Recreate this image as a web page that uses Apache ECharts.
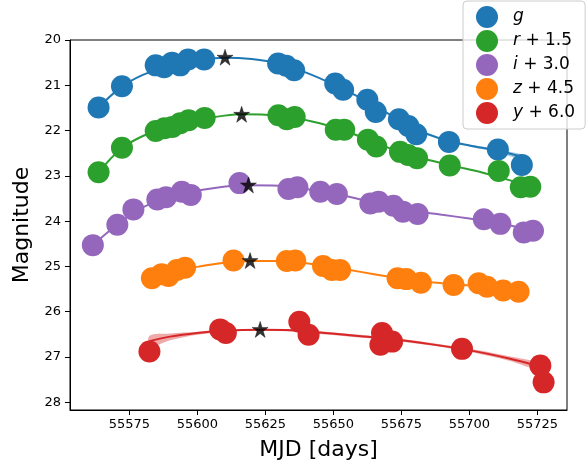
<!DOCTYPE html>
<html>
<head>
<meta charset="utf-8">
<script src="https://cdn.jsdelivr.net/npm/echarts@6/dist/echarts.min.js"></script>
<style>
  html, body { margin: 0; padding: 0; background: #fff; }
  #chart { width: 587px; height: 467px; }
</style>
</head>
<body>
<div id="chart"></div>
<script>
// light curve points [MJD, mag + offset]
let gPts = [[55563.7,21.49],[55572.3,21.02],[55584.7,20.56],[55587.8,20.60],[55590.7,20.50],[55593.7,20.56],[55596.6,20.43],[55602.5,20.43],[55629.7,20.52],[55632.7,20.57],[55635.6,20.67],[55650.7,20.96],[55653.6,21.10],[55662.5,21.32],[55665.6,21.59],[55674.1,21.75],[55677.6,21.90],[55680.5,22.08],[55692.5,22.25],[55710.5,22.42],[55719.3,22.76]];
let rPts = [[55563.7,22.92],[55572.3,22.38],[55584.7,22.01],[55587.9,21.95],[55590.8,21.92],[55593.7,21.84],[55596.8,21.77],[55602.7,21.72],[55629.8,21.66],[55632.9,21.75],[55635.8,21.70],[55650.9,21.98],[55654.0,21.98],[55662.7,22.20],[55665.8,22.35],[55674.5,22.47],[55677.5,22.54],[55680.8,22.61],[55692.8,22.77],[55710.8,22.89],[55718.9,23.25],[55722.4,23.24]];
let iPts = [[55561.6,24.53],[55570.6,24.08],[55576.5,23.74],[55585.3,23.52],[55588.5,23.47],[55594.3,23.35],[55597.6,23.42],[55615.5,23.16],[55633.5,23.29],[55636.8,23.25],[55645.2,23.35],[55651.3,23.40],[55663.6,23.61],[55666.6,23.57],[55672.1,23.66],[55675.6,23.79],[55681.0,23.84],[55705.3,23.96],[55711.4,24.06],[55720.0,24.25],[55723.4,24.21]];
let zPts = [[55583.3,25.26],[55586.9,25.17],[55589.4,25.21],[55592.5,25.08],[55595.5,25.03],[55613.3,24.87],[55632.9,24.88],[55636.0,24.87],[55646.2,24.99],[55649.5,25.08],[55652.5,25.08],[55673.6,25.26],[55676.8,25.28],[55682.2,25.36],[55694.2,25.41],[55703.4,25.37],[55706.5,25.45],[55712.4,25.53],[55718.1,25.56]];
let yPts = [[55582.4,26.88],[55608.4,26.39],[55610.5,26.47],[55637.5,26.22],[55640.9,26.51],[55667.9,26.47],[55667.3,26.73],[55671.6,26.66],[55697.3,26.82],[55726.1,27.19],[55727.3,27.56]];

// model curves
let gFit = [[55563.7,21.49],[55572,21.04],[55580,20.77],[55590,20.56],[55600,20.45],[55610,20.39],[55620,20.42],[55630,20.52],[55640,20.72],[55650,20.98],[55660,21.28],[55670,21.62],[55680,21.96],[55690,22.19],[55700,22.33],[55710,22.44],[55722,22.62]];
let rFit = [[55563.7,22.92],[55572,22.40],[55580,22.12],[55590,21.90],[55600,21.76],[55610,21.67],[55617,21.64],[55625,21.65],[55635,21.71],[55645,21.84],[55655,22.02],[55665,22.26],[55675,22.48],[55685,22.65],[55695,22.79],[55705,22.93],[55715,23.10],[55722.4,23.25]];
let iFit = [[55561.6,24.53],[55570,24.10],[55578,23.76],[55587,23.52],[55597,23.36],[55607,23.26],[55618,23.21],[55630,23.22],[55640,23.29],[55650,23.39],[55660,23.52],[55670,23.65],[55680,23.77],[55690,23.86],[55700,23.94],[55710,24.03],[55718,24.14],[55724,24.24]];
let zFit = [[55583.3,25.24],[55590,25.14],[55600,25.01],[55610,24.92],[55620,24.88],[55630,24.88],[55640,24.93],[55650,25.02],[55660,25.12],[55670,25.22],[55680,25.31],[55690,25.37],[55700,25.42],[55710,25.48],[55718,25.56]];
let yFit = [[55582.4,26.65],[55590,26.55],[55600,26.47],[55610,26.42],[55623,26.40],[55635,26.41],[55645,26.46],[55660,26.54],[55672,26.61],[55685,26.71],[55697,26.82],[55706,26.92],[55715,27.04],[55724,27.18]];

// uncertainty bands [MJD, upper, lower]
let gBand = [[55690,22.19,22.21],[55700,22.31,22.35],[55710,22.41,22.48],[55722,22.57,22.68]];
let yBand = [[55582.4,26.53,26.78],[55590,26.48,26.63],[55600,26.44,26.51],[55610,26.40,26.44],[55623,26.38,26.42],[55635,26.39,26.44],[55645,26.43,26.49],[55660,26.51,26.57],[55672,26.58,26.64],[55685,26.68,26.74],[55697,26.79,26.85],[55706,26.88,26.96],[55715,26.99,27.09],[55724,27.11,27.25]];

// peak markers
let peaks = [[55610.2,20.38],[55616.3,21.64],[55618.8,23.20],[55619.4,24.87],[55623.1,26.39]];

let xTicks = [55575, 55600, 55625, 55650, 55675, 55700, 55725];
let yTicks = [20, 21, 22, 23, 24, 25, 26, 27, 28];

let bands = [
  {name: 'g', color: '#1f77b4', pts: gPts, fit: gFit, band: gBand},
  {name: 'r + 1.5', color: '#2ca02c', pts: rPts, fit: rFit},
  {name: 'i + 3.0', color: '#9467bd', pts: iPts, fit: iFit},
  {name: 'z + 4.5', color: '#ff7f0e', pts: zPts, fit: zFit},
  {name: 'y + 6.0', color: '#d62728', pts: yPts, fit: yFit, band: yBand}
];

let font = 'DejaVu Sans';
let star = 'path://M50,0 L62,36 L100,36 L69,58 L81,95 L50,72 L19,95 L31,58 L0,36 L38,36 Z';

function bandSeries(b) {
  return {
    type: 'custom',
    name: b.name + ' band',
    data: [0],
    z: 1,
    silent: true,
    renderItem: function (params, api) {
      let pts = [];
      b.band.forEach(function (d) { pts.push(api.coord([d[0], d[1]])); });
      for (let k = b.band.length - 1; k >= 0; k--) {
        pts.push(api.coord([b.band[k][0], b.band[k][2]]));
      }
      return {
        type: 'polygon',
        shape: {points: pts, smooth: 0.3},
        style: {fill: b.color, opacity: 0.4}
      };
    }
  };
}

let series = [];
bands.forEach(function (b) {
  if (b.band) series.push(bandSeries(b));
  series.push({
    type: 'line',
    name: b.name + ' fit',
    data: b.fit,
    smooth: 0.35,
    showSymbol: false,
    silent: true,
    z: 2,
    lineStyle: {color: b.color, width: 2}
  });
  series.push({
    type: 'scatter',
    name: b.name,
    data: b.pts,
    symbol: 'circle',
    symbolSize: 22,
    z: 3,
    itemStyle: {color: b.color, opacity: 1}
  });
});
series.push({
  type: 'scatter',
  name: 'peak',
  data: peaks,
  symbol: star,
  symbolSize: 16,
  z: 10,
  itemStyle: {color: '#000', borderColor: '#000', borderWidth: 0.5}
});

let option = {
  animation: false,
  grid: {left: 70, right: 20, top: 40, bottom: 57},
  xAxis: {
    type: 'value',
    min: 55553.2,
    max: 55735.9,
    name: 'MJD [days]',
    nameLocation: 'middle',
    nameGap: 29,
    nameTextStyle: {fontFamily: font, fontSize: 22, color: '#000'},
    axisLine: {show: true, lineStyle: {color: '#000', width: 1}},
    axisTick: {show: true, inside: false, length: 5, customValues: xTicks, lineStyle: {color: '#000'}},
    axisLabel: {
      customValues: xTicks,
      formatter: function (v) { return String(v); },
      fontFamily: font, fontSize: 13, color: '#000', margin: 8
    },
    splitLine: {show: false}
  },
  yAxis: {
    type: 'value',
    inverse: true,
    min: 20,
    max: 28.17,
    name: 'Magnitude',
    nameLocation: 'middle',
    nameGap: 33,
    nameTextStyle: {fontFamily: font, fontSize: 22, color: '#000'},
    axisLine: {show: true, lineStyle: {color: '#000', width: 1}},
    axisTick: {show: true, inside: false, length: 5, customValues: yTicks, lineStyle: {color: '#000'}},
    axisLabel: {customValues: yTicks, fontFamily: font, fontSize: 13, color: '#000', margin: 9},
    splitLine: {show: false}
  },
  legend: {
    data: bands.map(function (b) { return b.name; }),
    orient: 'vertical',
    left: 463,
    top: 1,
    icon: 'circle',
    itemWidth: 22,
    itemHeight: 22,
    itemGap: 2,
    padding: [5, 10, 5, 13],
    backgroundColor: 'rgba(255,255,255,0.8)',
    borderColor: '#cccccc',
    borderWidth: 1,
    borderRadius: 4,
    selectedMode: false,
    formatter: function (name) {
      let p = name.split(' + ');
      if (p.length > 1) return '{it|' + p[0] + '}{n| + ' + p[1] + '}';
      return '{it|' + name + '}';
    },
    textStyle: {
      padding: [0, 0, 0, 10],
      rich: {
        it: {fontFamily: font, fontStyle: 'italic', fontSize: 17, color: '#000'},
        n: {fontFamily: font, fontSize: 17, color: '#000'}
      }
    }
  },
  series: series
};

let chart = echarts.init(document.getElementById('chart'));
chart.setOption(option);

// top and right spines
let rect = chart.getModel().getComponent('grid').coordinateSystem.getRect();
chart.setOption({
  graphic: [{
    type: 'rect',
    shape: {x: rect.x, y: rect.y, width: rect.width, height: rect.height},
    style: {fill: 'none', stroke: '#000', lineWidth: 1},
    silent: true,
    z: 0
  }]
});
</script>
</body>
</html>
